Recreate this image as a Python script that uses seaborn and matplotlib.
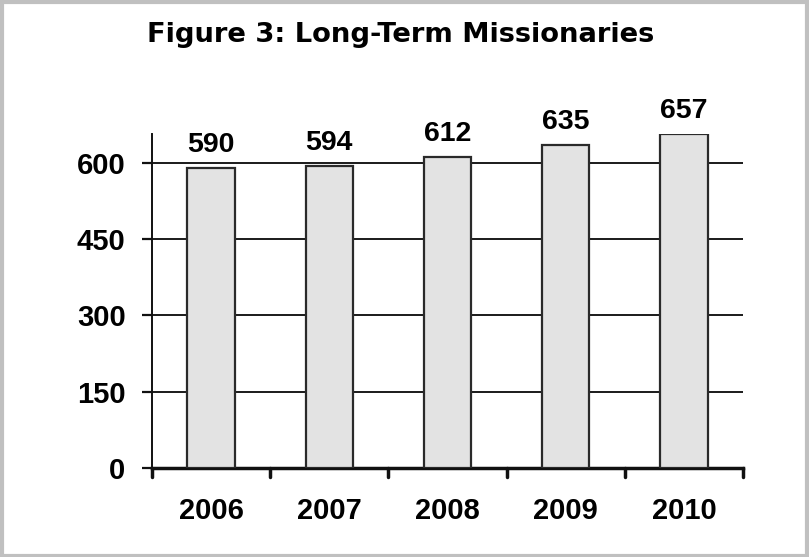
import matplotlib
matplotlib.use("Agg")
import matplotlib.pyplot as plt
import seaborn as sns
import pandas as pd
from matplotlib.patches import Rectangle

years = ["2006", "2007", "2008", "2009", "2010"]
missionaries = [590, 594, 612, 635, 657]
y_ticks = [0, 150, 300, 450, 600]
title = "Figure 3: Long-Term Missionaries"

sns.set_theme(style="white")
plt.rcParams['font.family'] = ['Liberation Sans', 'DejaVu Sans']
plt.rcParams['text.color'] = 'black'
plt.rcParams['xtick.color'] = 'black'
plt.rcParams['ytick.color'] = 'black'
plt.rcParams['xtick.labelcolor'] = 'black'
plt.rcParams['ytick.labelcolor'] = 'black'

df = pd.DataFrame({"year": years, "count": missionaries})

fig = plt.figure(figsize=(8.09, 5.57), dpi=100)
ax = fig.add_axes([152/809, 1 - 468/557, (743-152)/809, (468-134)/557])

sns.barplot(data=df, x="year", y="count", ax=ax, width=0.4, color="#e3e3e3",
            edgecolor="#2a2a2a", linewidth=1.6, saturation=1, zorder=3)

ax.set_ylim(0, 657)
ax.set_xlim(-0.5, 4.5)
ax.set_yticks(y_ticks)
ax.set_yticklabels([str(v) for v in y_ticks], fontsize=21, fontweight="bold", color="black")
ax.set_xticks(range(len(years)))
ax.set_xticklabels(years, fontsize=21, fontweight="bold", color="black")
ax.set_xlabel("")
ax.set_ylabel("")

for v in y_ticks[1:]:
    ax.axhline(v, color="#1a1a1a", linewidth=1.4, zorder=1)

for s in ["top", "right"]:
    ax.spines[s].set_visible(False)
for s in ["left", "bottom"]:
    ax.spines[s].set_color("#111111")
ax.spines["left"].set_linewidth(1.4)
ax.spines["bottom"].set_linewidth(2.5)

ax.tick_params(axis="y", direction="out", length=7, width=1.6, color="#111111", pad=12, left=True)
ax.tick_params(axis="x", length=0, pad=21)
# category boundary ticks on x axis
for b in [-0.5, 0.5, 1.5, 2.5, 3.5, 4.5]:
    ax.plot([b, b], [0, -18], color="#111111", linewidth=2.5, clip_on=False, zorder=4)

for i, v in enumerate(missionaries):
    ax.annotate(str(v), (i, v), xytext=(0, 7), textcoords="offset points",
                ha="center", va="bottom", fontsize=20.5, fontweight="bold",
                color="black", annotation_clip=False)

fig.text(401/809, 1 - 35/557, title, ha="center", va="center", fontsize=19.7,
         fontweight="bold", family=["DejaVu Sans"], color="black")

fig.patches.append(Rectangle((0.002, 0.002), 0.996, 0.995, transform=fig.transFigure,
                             fill=False, edgecolor="#c0c0c0", linewidth=3))

fig.savefig("out.png", dpi=100)
